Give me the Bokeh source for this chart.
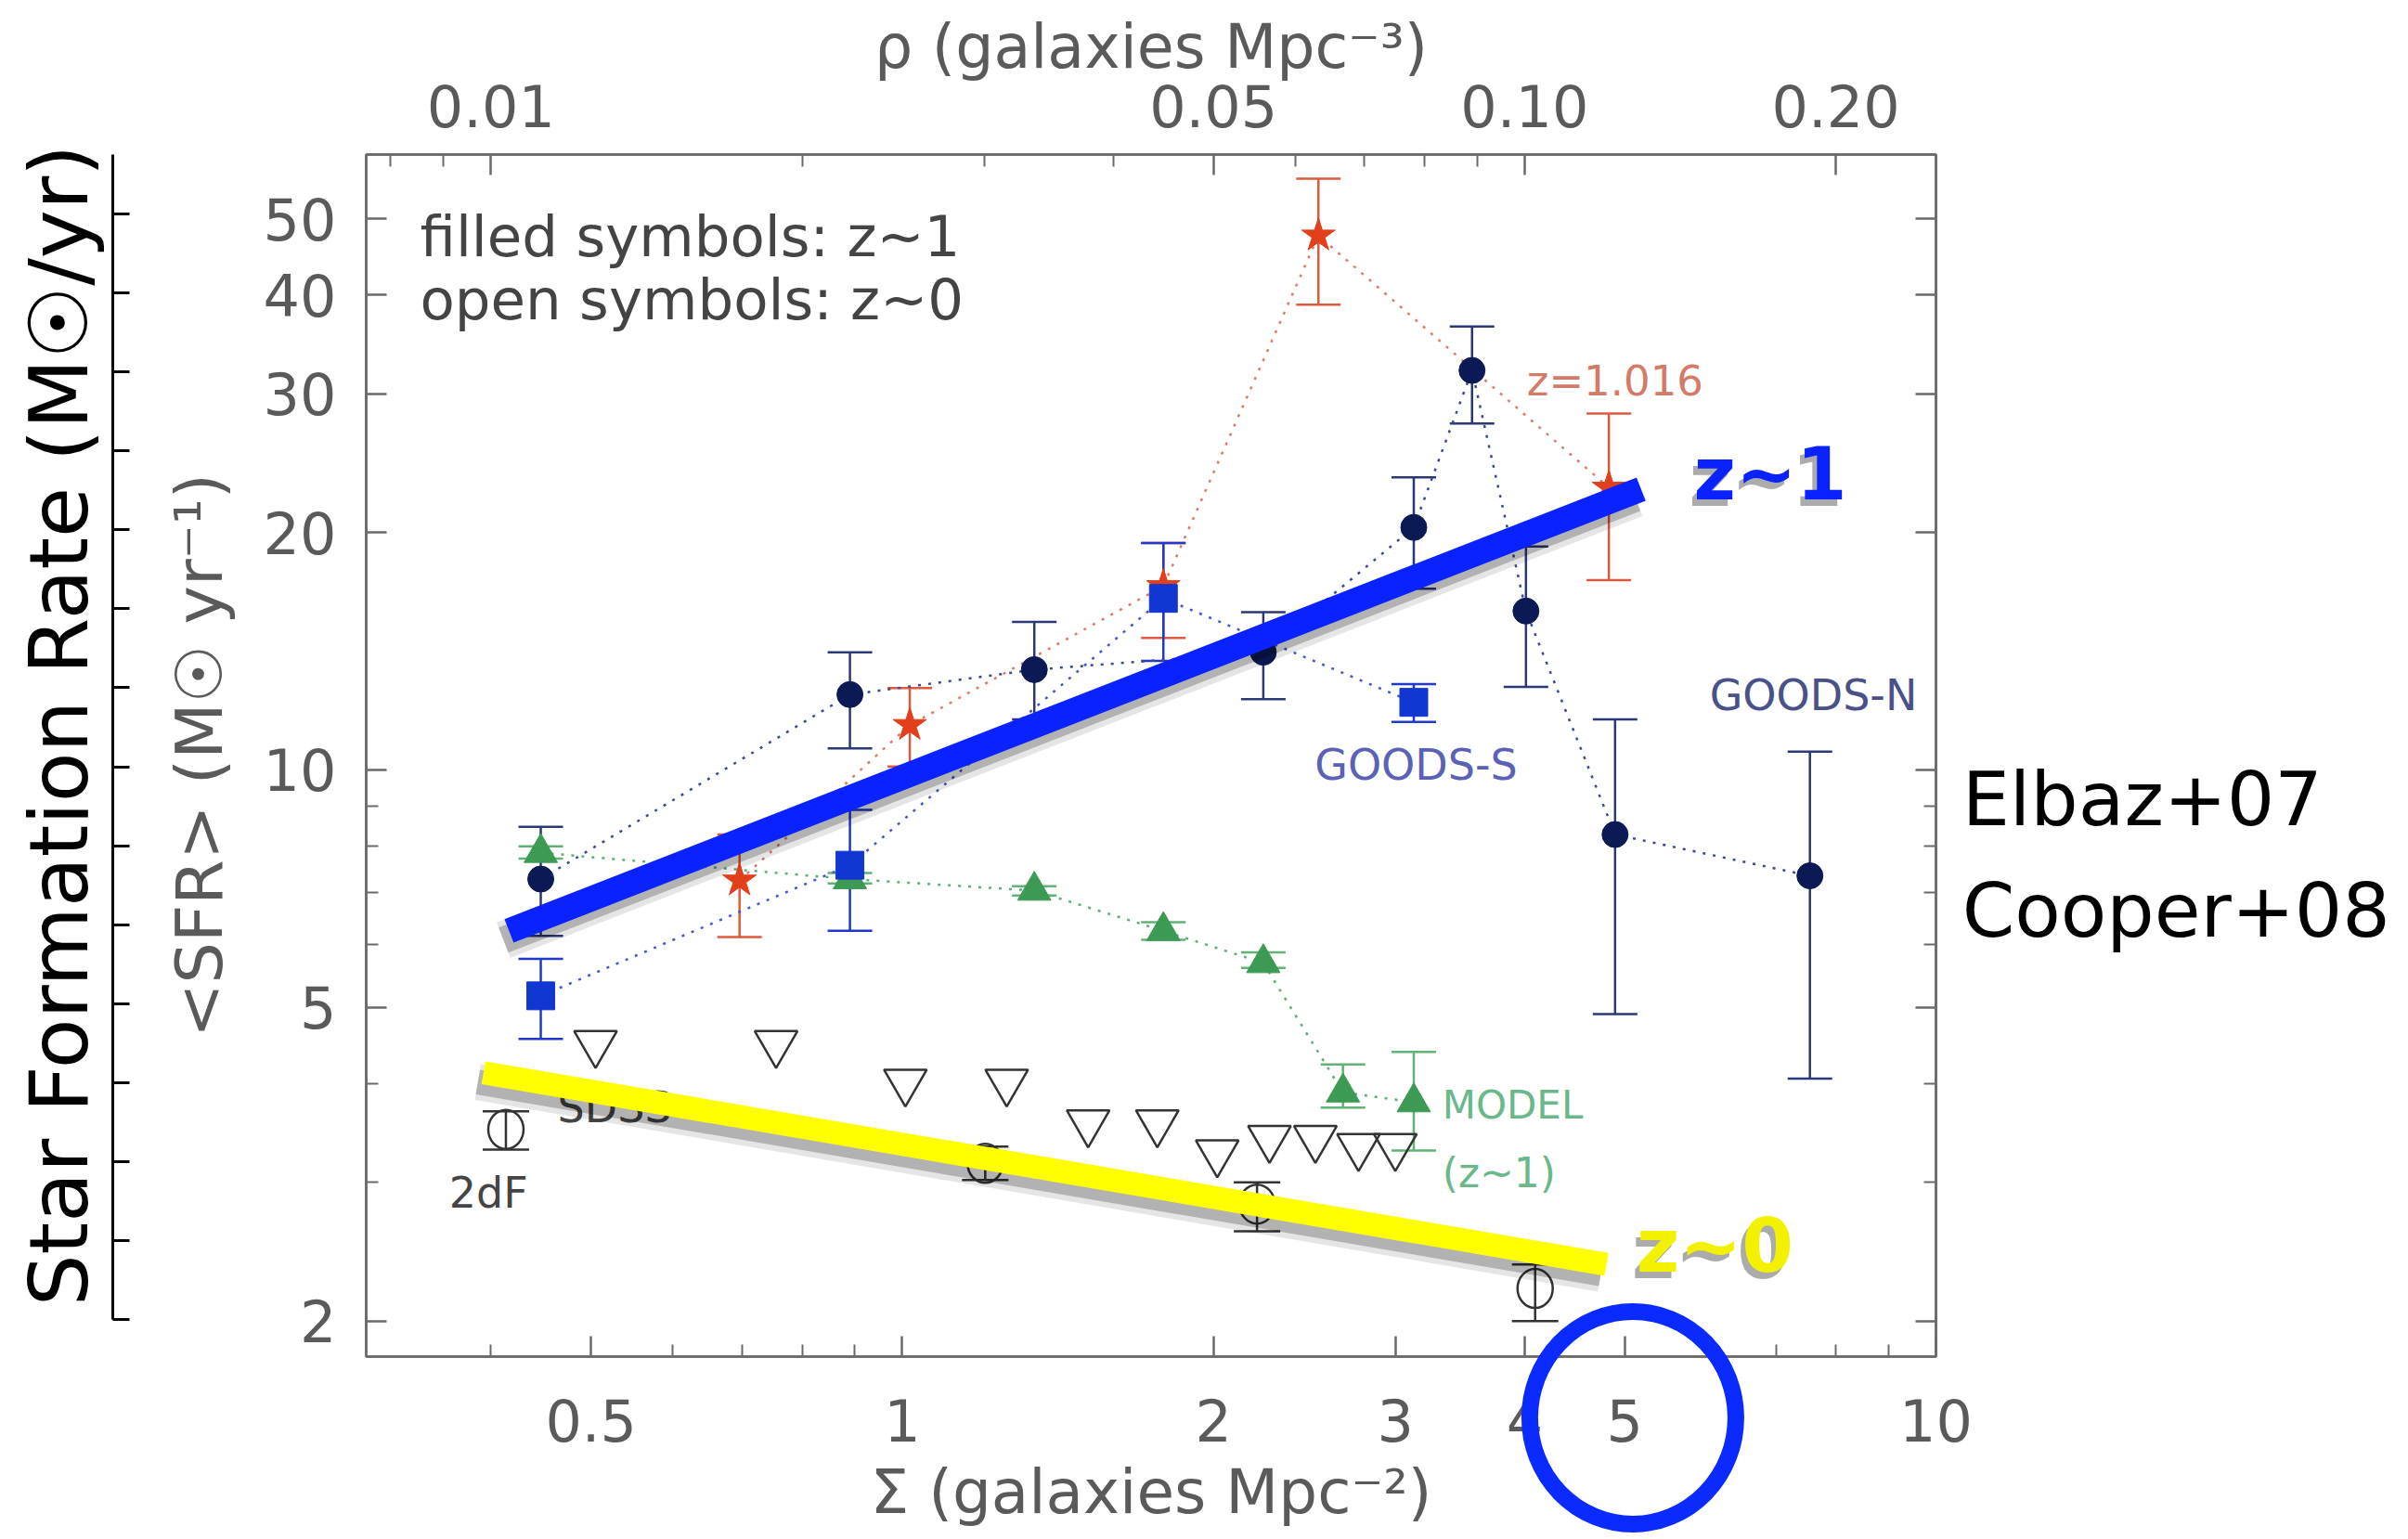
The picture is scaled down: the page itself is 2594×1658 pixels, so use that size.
import math
from bokeh.plotting import figure
from bokeh.models import (Range1d, LogScale, LinearScale, LogAxis, LinearAxis, FixedTicker,
                          CustomJSTickFormatter, Whisker, TeeHead, ColumnDataSource, Label)
from bokeh.core.properties import value
from bokeh.embed import file_html
from bokeh.resources import INLINE

# ---------------- data ----------------
X_RANGE = (0.303, 10.0)          # Sigma (galaxies Mpc^-2)
Y_RANGE = (1.803, 60.3)          # <SFR> (Msun/yr)
RHO_PER_SIGMA = 0.025            # top axis: rho = Sigma * 0.025

x_major = [0.5, 1, 2, 3, 4, 5, 10]
x_minor = [0.4, 0.6, 0.7, 0.8, 0.9, 6, 7, 8, 9]
rho_major = [0.01, 0.05, 0.1, 0.2]
rho_minor = [0.008, 0.009, 0.02, 0.03, 0.04, 0.06, 0.07, 0.08, 0.09]
y_major = [2, 5, 10, 20, 30, 40, 50]
y_minor = [3, 4, 6, 7, 8, 9]
deco_ticks = list(range(16))

# DEEP2 (navy circles, Cooper+08, z~1)
deep2_sigma = [0.447, 0.890, 1.342, 2.235, 3.125, 3.558, 4.012, 4.893, 7.552]
deep2_sfr = [7.27, 12.46, 13.4, 14.1, 20.3, 32.1, 15.9, 8.28, 7.34]
deep2_lo = [6.16, 10.65, 11.59, 12.29, 16.97, 27.5, 12.74, 4.90, 4.06]
deep2_hi = [8.47, 14.1, 15.4, 15.85, 23.5, 36.5, 19.2, 11.59, 10.55]

# GOODS-S (blue squares, Elbaz+07)
goodss_sigma = [0.447, 0.890, 1.789, 3.125]
goodss_sfr = [5.17, 7.57, 16.5, 12.18]
goodss_lo = [4.56, 6.25, 13.75, 11.5]
goodss_hi = [5.76, 8.90, 19.4, 12.85]

# z=1.016 structure (red stars)
cluster_sigma = [0.696, 1.017, 1.789, 2.527, 4.826]
cluster_sfr = [7.24, 11.4, 17.1, 47.6, 22.8]
cluster_lo = [6.14, 10.1, 14.7, 38.9, 17.4]
cluster_hi = [8.28, 12.7, 19.4, 56.2, 28.3]

# MODEL z~1 (green triangles)
model_sigma = [0.447, 0.890, 1.342, 1.789, 2.235, 2.669, 3.125]
model_sfr = [7.85, 7.27, 7.03, 6.25, 5.69, 3.90, 3.79]
model_lo = [7.72, 7.18, 6.93, 6.09, 5.61, 3.73, 3.29]
model_hi = [8.00, 7.40, 7.12, 6.41, 5.87, 4.23, 4.39]

# SDSS z~0 (open inverted triangles)
sdss_sigma = [0.505, 0.755, 1.007, 1.262, 1.513, 1.765, 2.017, 2.266, 2.510, 2.763, 2.999]
sdss_sfr = [4.50, 4.50, 4.02, 4.02, 3.57, 3.57, 3.27, 3.41, 3.41, 3.33, 3.33]

# z~0 open circles (2dF / SDSS)
lowz_sigma = [0.4136, 1.203, 2.204, 4.095]
lowz_sfr = [3.50, 3.17, 2.815, 2.20]
lowz_lo = [3.30, 3.02, 2.60, 2.00]
lowz_hi = [3.69, 3.33, 3.00, 2.36]

# hand-drawn annotations
z1_trend_sigma = [0.4165, 5.185]
z1_trend_sfr = [6.25, 22.7]
z0_trend_sigma = [0.3934, 4.80]
z0_trend_sfr = [4.13, 2.36]
ring_sigma = [5.09]
ring_sfr = [1.508]
refs_sigma = [10.6, 10.6]
refs_sfr = [9.19, 6.64]
refs_text = ["Elbaz+07", "Cooper+08"]
big_label_sigma = [0.1528]
big_label_sfr = [11.39]
big_label_text = ["Star Formation Rate (M\u2609/yr)"]

# ---------------- styling ----------------
FONT = "DejaVu Sans"
AX_GRAY = "#6a6a6a"
TXT_GRAY = "#5a5a5a"
NAVY = "#0b1a55"
NAVY_BAR = "#2a3878"
NAVY_DOT = "#3a4a8e"
BLUE = "#1236d2"
BLUE_BAR = "#2238c8"
RED = "#e2401c"
RED_BAR = "#dc5a40"
RED_DOT = "#e07a66"
GREEN = "#3c9a55"
GREEN_BAR = "#62b276"
GREEN_DOT = "#5eae76"
SHADOW_X = 1.0125   # drop shadow: ~6 px to the left
SHADOW_Y = 1.0275   # drop shadow: ~10 px down

# ---------------- main figure ----------------
p = figure(width=2594, height=1658, x_axis_type="log", y_axis_type="log",
           x_range=Range1d(*X_RANGE), y_range=Range1d(*Y_RANGE),
           toolbar_location=None, output_backend="svg",
           min_border_left=394, min_border_right=509, min_border_top=166,
           min_border_bottom=197, background_fill_color="white", border_fill_color="white")
p.grid.visible = False
p.outline_line_color = AX_GRAY
p.outline_line_width = 2.5

p.extra_x_ranges = {"rho": Range1d(X_RANGE[0] * RHO_PER_SIGMA, X_RANGE[1] * RHO_PER_SIGMA),
                    "shx": Range1d(X_RANGE[0] * SHADOW_X, X_RANGE[1] * SHADOW_X)}
p.extra_x_scales = {"rho": LogScale(), "shx": LogScale()}
p.extra_y_ranges = {"deco": Range1d(-0.470, 14.753),
                    "shy": Range1d(Y_RANGE[0] * SHADOW_Y, Y_RANGE[1] * SHADOW_Y)}
p.extra_y_scales = {"deco": LinearScale(), "shy": LogScale()}


def style_axis(ax, label_size="62px"):
    ax.axis_line_color = AX_GRAY
    ax.axis_line_width = 2.5
    ax.major_tick_line_color = AX_GRAY
    ax.major_tick_line_width = 2.5
    ax.minor_tick_line_color = AX_GRAY
    ax.minor_tick_line_width = 2
    ax.major_tick_in = 22
    ax.major_tick_out = 0
    ax.minor_tick_in = 13
    ax.minor_tick_out = 0
    ax.major_label_text_font = FONT
    ax.major_label_text_font_size = label_size
    ax.major_label_text_color = TXT_GRAY
    ax.axis_label_text_font = FONT
    ax.axis_label_text_font_style = "normal"
    ax.axis_label_text_color = TXT_GRAY


xa = p.xaxis[0]
xa.ticker = FixedTicker(ticks=x_major, minor_ticks=x_minor)
xa.formatter = CustomJSTickFormatter(code="return String(tick)")
xa.axis_label = "\u03a3 (galaxies Mpc\u207b\u00b2)"
style_axis(xa)
xa.axis_label_text_font_size = "66px"
xa.major_label_standoff = 45
xa.axis_label_standoff = 13

ya = p.yaxis[0]
ya.ticker = FixedTicker(ticks=y_major, minor_ticks=y_minor)
ya.formatter = CustomJSTickFormatter(code="return String(tick)")
ya.axis_label = "<SFR> (M\u2609 yr\u207b\u00b9)"
style_axis(ya)
ya.axis_label_text_font_size = "70px"
ya.major_label_standoff = 32
ya.axis_label_standoff = 25

# spacer between the inner y axis and the outer decorative axis
spacer = LogAxis(ticker=FixedTicker(ticks=y_major),
                 formatter=CustomJSTickFormatter(code="return ''"))
spacer.axis_line_color = None
spacer.major_tick_line_color = None
spacer.minor_tick_line_color = None
spacer.major_tick_in = 0
spacer.major_tick_out = 49
spacer.major_label_standoff = 0
p.add_layout(spacer, "left")

deco = LinearAxis(y_range_name="deco", ticker=FixedTicker(ticks=deco_ticks),
                  formatter=CustomJSTickFormatter(code="return ''"))
deco.bounds = (0, 15)
deco.axis_line_color = "black"
deco.axis_line_width = 3
deco.major_tick_line_color = "black"
deco.major_tick_line_width = 3
deco.major_tick_in = 18
deco.major_tick_out = 0
deco.minor_tick_line_color = None
deco.major_label_standoff = 0
p.add_layout(deco, "left")

top = LogAxis(x_range_name="rho", ticker=FixedTicker(ticks=rho_major, minor_ticks=rho_minor),
              formatter=CustomJSTickFormatter(code="return tick.toFixed(2)"),
              axis_label="\u03c1 (galaxies Mpc\u207b\u00b3)")
style_axis(top)
top.axis_label_text_font_size = "65px"
top.major_label_standoff = 30
top.axis_label_standoff = 0
p.add_layout(top, "above")

right = LogAxis(ticker=FixedTicker(ticks=y_major, minor_ticks=y_minor),
                formatter=CustomJSTickFormatter(code="return ''"))
style_axis(right)
right.major_label_standoff = 0
p.add_layout(right, "right")


def add_errors(xs, lo, hi, color, size=48, width=2.5):
    src = ColumnDataSource(dict(x=xs, lo=lo, hi=hi))
    w = Whisker(source=src, base="x", lower="lo", upper="hi", dimension="height",
                line_color=color, line_width=width,
                upper_head=TeeHead(size=size, line_color=color, line_width=width),
                lower_head=TeeHead(size=size, line_color=color, line_width=width))
    p.add_layout(w)


DOT = "3 8"
# connecting dotted lines
p.line(model_sigma, model_sfr, line_color=GREEN_DOT, line_width=2.5, line_dash=DOT)
p.line(cluster_sigma, cluster_sfr, line_color=RED_DOT, line_width=2.5, line_dash=DOT)
p.line(goodss_sigma, goodss_sfr, line_color="#4656d0", line_width=2.5, line_dash=DOT)
p.line(deep2_sigma, deep2_sfr, line_color=NAVY_DOT, line_width=2.5, line_dash=DOT)

# error bars
add_errors(lowz_sigma, lowz_lo, lowz_hi, "#333333", size=50)
add_errors(model_sigma, model_lo, model_hi, GREEN_BAR)
add_errors(cluster_sigma, cluster_lo, cluster_hi, RED_BAR)
add_errors(goodss_sigma, goodss_lo, goodss_hi, BLUE_BAR)
add_errors(deep2_sigma, deep2_lo, deep2_hi, NAVY_BAR)

# markers
p.scatter(sdss_sigma, sdss_sfr, marker="inverted_triangle", size=46,
          fill_color=None, line_color="#333333", line_width=2.5)
p.ellipse(lowz_sigma, lowz_sfr, width=38, height=42, width_units="screen",
          height_units="screen", fill_color=None, line_color="#333333", line_width=2.5)
p.scatter(model_sigma, model_sfr, marker="triangle", size=36,
          fill_color=GREEN, line_color=GREEN)
p.scatter(cluster_sigma, cluster_sfr, marker="star", size=38,
          fill_color=RED, line_color=RED)
p.scatter(goodss_sigma, goodss_sfr, marker="square", size=30,
          fill_color=BLUE, line_color=BLUE)
p.scatter(deep2_sigma, deep2_sfr, marker="circle", size=28,
          fill_color=NAVY, line_color=NAVY)


def add_label(x, y, text, size, color, bold=False, shadow=False):
    if shadow:
        p.add_layout(Label(x=x, y=y, text=text, text_font=FONT, text_font_size=size,
                           text_color="#444444", text_alpha=0.45,
                           text_font_style="bold" if bold else "normal",
                           text_baseline="middle", text_align="left",
                           x_offset=-5, y_offset=-7))
    p.add_layout(Label(x=x, y=y, text=text, text_font=FONT, text_font_size=size,
                       text_color=color, text_font_style="bold" if bold else "normal",
                       text_baseline="middle", text_align="left"))


add_label(0.3416, 47.5, "filled symbols: z~1", "61px", "#444444")
add_label(0.3416, 39.5, "open symbols: z~0", "61px", "#444444")
add_label(4.02, 31.1, "z=1.016", "45px", "#d47a68")
add_label(2.506, 10.16, "GOODS-S", "46px", "#5a62b5")
add_label(6.04, 12.45, "GOODS-N", "46px", "#4a5088")
add_label(3.33, 3.76, "MODEL", "42px", "#6ab88a")
add_label(3.33, 3.08, "(z~1)", "44px", "#6ab88a")
add_label(0.464, 3.73, "SDSS", "46px", "#444444")
add_label(0.3644, 2.91, "2dF", "46px", "#444444")

# hand-drawn overlay annotations (with soft drop shadows)
for tx, ty, w in ((z1_trend_sigma, z1_trend_sfr, 27), (z0_trend_sigma, z0_trend_sfr, 25)):
    p.line(tx, ty, x_range_name="shx", y_range_name="shy", line_color="black",
           line_alpha=0.10, line_width=w + 14, line_cap="butt", level="overlay")
    p.line(tx, ty, x_range_name="shx", y_range_name="shy", line_color="black",
           line_alpha=0.22, line_width=w + 2, line_cap="butt", level="overlay")
p.line(z1_trend_sigma, z1_trend_sfr, line_color="#0a22ff", line_width=27,
       line_cap="butt", level="overlay")
p.line(z0_trend_sigma, z0_trend_sfr, line_color="#ffff00", line_width=25,
       line_cap="butt", level="overlay")
p.ellipse(ring_sigma, ring_sfr, width=222, height=229, width_units="screen",
          height_units="screen", fill_color=None, line_color="#0a2aff",
          line_width=18, level="overlay")

add_label(5.83, 23.7, "z~1", "78px", "#0a22ff", bold=True, shadow=True)
add_label(5.13, 2.49, "z~0", "80px", "#f2f200", bold=True, shadow=True)
p.text(refs_sigma, refs_sfr, text=refs_text, text_font=value(FONT),
       text_font_size="81px", text_color="black", text_baseline="middle",
       text_align="left", level="overlay")
p.text(big_label_sigma, big_label_sfr, text=big_label_text, text_font=value(FONT),
       text_font_size="88px", text_color="black", text_baseline="middle",
       text_align="center", angle=math.pi / 2, level="overlay")

open("out.html", "w").write(file_html(p, INLINE))
